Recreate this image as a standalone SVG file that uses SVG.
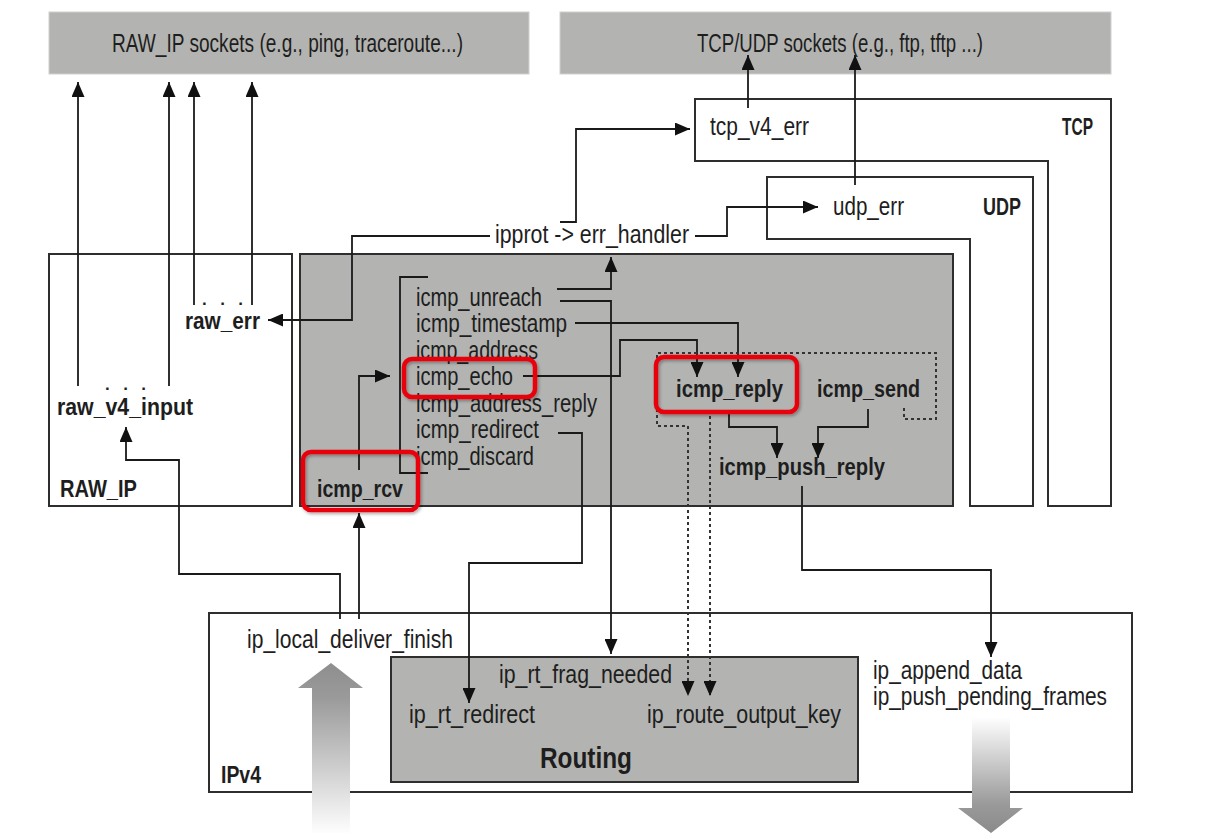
<svg xmlns="http://www.w3.org/2000/svg" width="1208" height="840" viewBox="0 0 1208 840">
<style>
text{font-family:"Liberation Sans",Arial,sans-serif;font-size:25px;fill:#1e1e1e}
.b{font-weight:bold;font-size:24px}
.dots{font-weight:bold;font-size:17px}
.box{fill:#fff;stroke:#2e2e2e;stroke-width:2}
.gbox{fill:#b3b4b1;stroke:#2e2e2e;stroke-width:2}
.sock{fill:#b3b4b1;stroke:#d0d0d0;stroke-width:1}
.hl{fill:none;stroke:#e8000b;stroke-width:4.5;filter:url(#sh)}
.c{fill:none;stroke:#1a1a1a;stroke-width:1.8}
.ca{fill:none;stroke:#1a1a1a;stroke-width:1.8;marker-end:url(#ah)}
.da{fill:none;stroke:#333;stroke-width:2;stroke-dasharray:3 3;marker-end:url(#ah)}
</style>
<defs>
<marker id="ah" markerUnits="userSpaceOnUse" markerWidth="16" markerHeight="13" refX="15" refY="6.5" orient="auto">
<path d="M0,0 L15,6.5 L0,13 z" fill="#111"/>
</marker>
<filter id="sh" x="-10%" y="-20%" width="120%" height="140%">
<feDropShadow dx="1.5" dy="2" stdDeviation="1.5" flood-color="#000" flood-opacity="0.3"/>
</filter>
<linearGradient id="gup" gradientUnits="userSpaceOnUse" x1="0" y1="663" x2="0" y2="835">
<stop offset="0" stop-color="#8e8e8e"/>
<stop offset="0.2" stop-color="#9a9a9a"/>
<stop offset="1" stop-color="#ffffff"/>
</linearGradient>
<linearGradient id="gdn" gradientUnits="userSpaceOnUse" x1="0" y1="717" x2="0" y2="833">
<stop offset="0" stop-color="#ffffff"/>
<stop offset="0.75" stop-color="#9a9a9a"/>
<stop offset="1" stop-color="#8a8a8a"/>
</linearGradient>
</defs>
<rect width="1208" height="840" fill="#fff"/>

<g id="raw-sockets">
<rect class="sock" x="49" y="12" width="480" height="62"/>
<text x="112" y="52" textLength="351" lengthAdjust="spacingAndGlyphs">RAW_IP sockets (e.g., ping, traceroute...)</text>
</g>
<g id="tcpudp-sockets">
<rect class="sock" x="560" y="12" width="551" height="62"/>
<text x="697" y="52" textLength="286" lengthAdjust="spacingAndGlyphs">TCP/UDP sockets (e.g., ftp, tftp ...)</text>
</g>
<g id="tcp">
<polygon class="box" points="695,99 1111,99 1111,506 1048,506 1048,161 695,161"/>
<text x="710" y="135" textLength="99" lengthAdjust="spacingAndGlyphs">tcp_v4_err</text>
<text class="b" x="1062" y="135" textLength="31" lengthAdjust="spacingAndGlyphs">TCP</text>
</g>
<g id="udp">
<polygon class="box" points="767,177 1033,177 1033,506 970,506 970,239 767,239"/>
<text x="833" y="215" textLength="71" lengthAdjust="spacingAndGlyphs">udp_err</text>
<text class="b" x="983" y="215" textLength="38" lengthAdjust="spacingAndGlyphs">UDP</text>
</g>
<g id="err-handler">
<text x="495" y="243" textLength="194" lengthAdjust="spacingAndGlyphs">ipprot -&gt; err_handler</text>
</g>
<g id="raw-ip">
<rect class="box" x="49" y="254" width="243" height="252"/>
<text class="dots" x="202" y="305" textLength="41" lengthAdjust="spacing">. . .</text>
<text class="b" x="185" y="329" textLength="75" lengthAdjust="spacingAndGlyphs">raw_err</text>
<text class="dots" x="105" y="390" textLength="41" lengthAdjust="spacing">. . .</text>
<text class="b" x="57" y="415" textLength="136" lengthAdjust="spacingAndGlyphs">raw_v4_input</text>
<text class="b" x="60" y="497" textLength="77" lengthAdjust="spacingAndGlyphs">RAW_IP</text>
</g>
<g id="icmp">
<rect class="gbox" x="300" y="254" width="653" height="252"/>
<text x="416" y="306" textLength="126" lengthAdjust="spacingAndGlyphs">icmp_unreach</text>
<text x="416" y="332" textLength="151" lengthAdjust="spacingAndGlyphs">icmp_timestamp</text>
<text x="416" y="359" textLength="122" lengthAdjust="spacingAndGlyphs">icmp_address</text>
<text x="416" y="385" textLength="97" lengthAdjust="spacingAndGlyphs">icmp_echo</text>
<text x="416" y="412" textLength="181" lengthAdjust="spacingAndGlyphs">icmp_address_reply</text>
<text x="416" y="438" textLength="123" lengthAdjust="spacingAndGlyphs">icmp_redirect</text>
<text x="416" y="465" textLength="118" lengthAdjust="spacingAndGlyphs">icmp_discard</text>
<text class="b" x="317" y="497" textLength="86" lengthAdjust="spacingAndGlyphs">icmp_rcv</text>
<text class="b" x="676" y="397" textLength="107" lengthAdjust="spacingAndGlyphs">icmp_reply</text>
<text class="b" x="817" y="397" textLength="103" lengthAdjust="spacingAndGlyphs">icmp_send</text>
<text class="b" x="719" y="475" textLength="166" lengthAdjust="spacingAndGlyphs">icmp_push_reply</text>
</g>
<g id="ipv4">
<rect class="box" x="209" y="613" width="923" height="179"/>
<text x="247" y="648" textLength="206" lengthAdjust="spacingAndGlyphs">ip_local_deliver_finish</text>
<text class="b" x="221" y="783" textLength="40" lengthAdjust="spacingAndGlyphs">IPv4</text>
<text x="873" y="679" textLength="149" lengthAdjust="spacingAndGlyphs">ip_append_data</text>
<text x="873" y="705" textLength="234" lengthAdjust="spacingAndGlyphs">ip_push_pending_frames</text>
</g>
<g id="routing">
<rect class="gbox" x="391" y="657" width="467" height="125"/>
<text x="499" y="683" textLength="173" lengthAdjust="spacingAndGlyphs">ip_rt_frag_needed</text>
<text x="409" y="723" textLength="126" lengthAdjust="spacingAndGlyphs">ip_rt_redirect</text>
<text x="647" y="723" textLength="194" lengthAdjust="spacingAndGlyphs">ip_route_output_key</text>
<text class="b" x="540" y="768" style="font-size:30px" textLength="92" lengthAdjust="spacingAndGlyphs">Routing</text>
</g>
<g id="flow-arrows">
<path d="M312,833 L312,688 L298,688 L331,663 L363,688 L350,688 L350,833 z" fill="url(#gup)"/>
<path d="M972,717 L1010,717 L1010,808 L1023,808 L991,833 L958,808 L972,808 z" fill="url(#gdn)"/>
</g>
<g id="connectors">
<path class="ca" d="M78,386 L78,82"/>
<path class="ca" d="M169,386 L169,82"/>
<path class="ca" d="M194,305 L194,82"/>
<path class="ca" d="M252,305 L252,82"/>
<path class="ca" d="M748,108 L748,55"/>
<path class="ca" d="M855,185 L855,55"/>
<path class="ca" d="M560,222 L576,222 L576,129 L690,129"/>
<path class="ca" d="M695,236 L727,236 L727,207 L818,207"/>
<path class="ca" d="M490,236 L352,236 L352,320 L268,320"/>
<path class="ca" d="M557,289 L611,289 L611,257"/>
<path class="ca" d="M560,301 L611,301 L611,654"/>
<path class="ca" d="M575,323 L738,323 L738,377"/>
<path class="ca" d="M523,376 L620,376 L620,340 L697,340 L697,377"/>
<path class="ca" d="M558,433 L582,433 L582,563 L469,563 L469,703"/>
<path class="c" d="M428,277 L400,277 L400,473 L428,473"/>
<path class="ca" d="M359,470 L359,376 L390,376"/>
<path class="ca" d="M729,412 L729,427 L777,427 L777,458"/>
<path class="ca" d="M868,409 L868,427 L818,427 L818,458"/>
<path class="ca" d="M802,486 L802,570 L991,570 L991,657"/>
<path class="ca" d="M359,619 L359,513"/>
<path class="ca" d="M340,619 L340,574 L179,574 L179,460 L126,460 L126,427"/>
<path class="da" d="M904,408 L904,419 L936,419 L936,353 L657,353 L657,426 L688,426 L688,696"/>
<path class="da" d="M710,410 L710,696"/>
</g>
<g id="highlights">
<rect class="hl" x="303" y="452" width="115" height="58" rx="8"/>
<rect class="hl" x="404" y="359" width="131" height="38" rx="8"/>
<rect class="hl" x="656" y="357" width="141" height="55" rx="8"/>
</g>
</svg>
